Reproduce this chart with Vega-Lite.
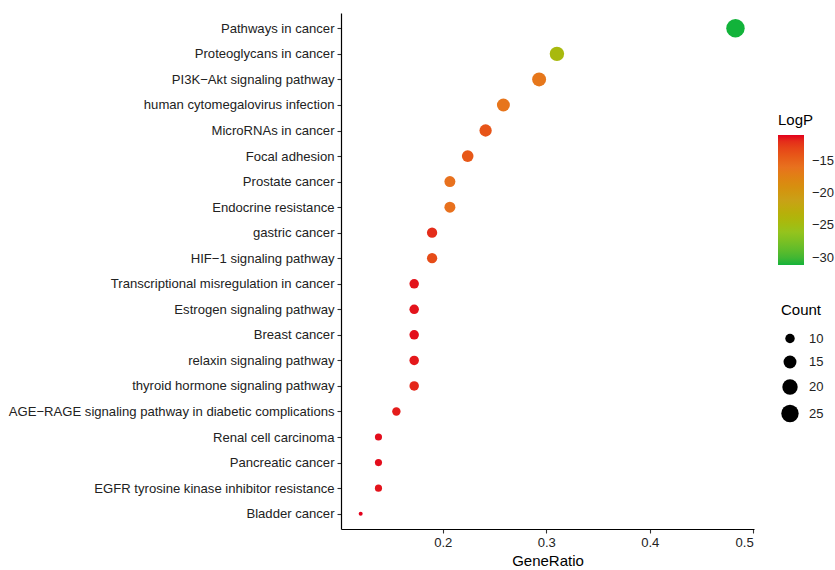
{
  "$schema": "https://vega.github.io/schema/vega-lite/v6.json",
  "width": 413,
  "height": 516,
  "autosize": {"type": "none"},
  "padding": {"left": 341, "top": 13, "right": 81, "bottom": 41},
  "config": {
    "view": {"stroke": null},
    "font": "Liberation Sans",
    "axis": {"grid": false, "domainColor": "#000000", "domainWidth": 1.2, "tickColor": "#333333", "tickWidth": 1.1, "tickSize": 4, "labelColor": "#222222", "labelFontSize": 13.1, "labelFont": "Liberation Sans"},
    "legend": {"titleFontSize": 15, "titleFontWeight": "normal", "titleColor": "#000000", "labelFontSize": 13, "labelColor": "#222222", "padding": 0, "titleFont": "Liberation Sans", "labelFont": "Liberation Sans"}
  },
  "data": {
    "values": [
      {"term": "Pathways in cancer", "GeneRatio": 0.4828, "Count": 28, "LogP": -31.1},
      {"term": "Proteoglycans in cancer", "GeneRatio": 0.3103, "Count": 18, "LogP": -24.5},
      {"term": "PI3K−Akt signaling pathway", "GeneRatio": 0.2931, "Count": 17, "LogP": -16.5},
      {"term": "human cytomegalovirus infection", "GeneRatio": 0.2586, "Count": 15, "LogP": -16.3},
      {"term": "MicroRNAs in cancer", "GeneRatio": 0.2414, "Count": 14, "LogP": -14.0},
      {"term": "Focal adhesion", "GeneRatio": 0.2241, "Count": 13, "LogP": -14.2},
      {"term": "Prostate cancer", "GeneRatio": 0.2069, "Count": 12, "LogP": -16.0},
      {"term": "Endocrine resistance", "GeneRatio": 0.2069, "Count": 12, "LogP": -16.0},
      {"term": "gastric cancer", "GeneRatio": 0.1897, "Count": 11, "LogP": -12.0},
      {"term": "HIF−1 signaling pathway", "GeneRatio": 0.1897, "Count": 11, "LogP": -13.5},
      {"term": "Transcriptional misregulation in cancer", "GeneRatio": 0.1724, "Count": 10, "LogP": -11.3},
      {"term": "Estrogen signaling pathway", "GeneRatio": 0.1724, "Count": 10, "LogP": -11.3},
      {"term": "Breast cancer", "GeneRatio": 0.1724, "Count": 10, "LogP": -11.2},
      {"term": "relaxin signaling pathway", "GeneRatio": 0.1724, "Count": 10, "LogP": -11.4},
      {"term": "thyroid hormone signaling pathway", "GeneRatio": 0.1724, "Count": 10, "LogP": -11.8},
      {"term": "AGE−RAGE signaling pathway in diabetic complications", "GeneRatio": 0.1552, "Count": 9, "LogP": -11.5},
      {"term": "Renal cell carcinoma", "GeneRatio": 0.1379, "Count": 8, "LogP": -11.2},
      {"term": "Pancreatic cancer", "GeneRatio": 0.1379, "Count": 8, "LogP": -11.2},
      {"term": "EGFR tyrosine kinase inhibitor resistance", "GeneRatio": 0.1379, "Count": 8, "LogP": -11.3},
      {"term": "Bladder cancer", "GeneRatio": 0.1207, "Count": 7, "LogP": -11.05}
    ]
  },
  "mark": {"type": "circle", "opacity": 1},
  "encoding": {
    "y": {
      "field": "term", "type": "nominal", "sort": null,
      "scale": {"type": "point", "padding": 0.6},
      "axis": {"title": null, "labelPadding": 3, "labelLimit": 400}
    },
    "x": {
      "field": "GeneRatio", "type": "quantitative",
      "scale": {"domain": [0.1017, 0.5007], "nice": false, "zero": false},
      "axis": {"values": [0.2, 0.3, 0.4, 0.5], "format": ".1f", "title": "GeneRatio", "titleFontSize": 15, "titleFontWeight": "normal", "titleColor": "#000000", "titlePadding": 4, "labelPadding": 3}
    },
    "color": {
      "field": "LogP", "type": "quantitative",
      "scale": {
        "domain": [-31.1, -26.09, -21.08, -16.06, -11.05],
        "range": ["#12B33A", "#94C41E", "#C9A118", "#E8721E", "#E3001C"]
      },
      "legend": {
        "title": "LogP", "orient": "none", "legendX": 437, "legendY": 100,
        "values": [-30, -25, -20, -15],
        "gradientLength": 130, "gradientThickness": 26, "gradientStrokeWidth": 0,
        "labelOffset": 8, "titlePadding": 7
      }
    },
    "size": {
      "field": "Count", "type": "quantitative",
      "scale": {
        "domain": [7, 8, 10, 15, 18, 20, 25, 28],
        "range": [16, 51, 90, 167, 209, 236, 302, 340]
      },
      "legend": {
        "title": "Count", "orient": "none", "legendX": 440, "legendY": 290,
        "values": [10, 15, 20, 25],
        "symbolFillColor": "#000000", "symbolStrokeColor": "#000000", "symbolStrokeWidth": 0, "symbolOpacity": 1,
        "labelOffset": 10, "rowPadding": 9.5, "titlePadding": 14
      }
    }
  }
}
